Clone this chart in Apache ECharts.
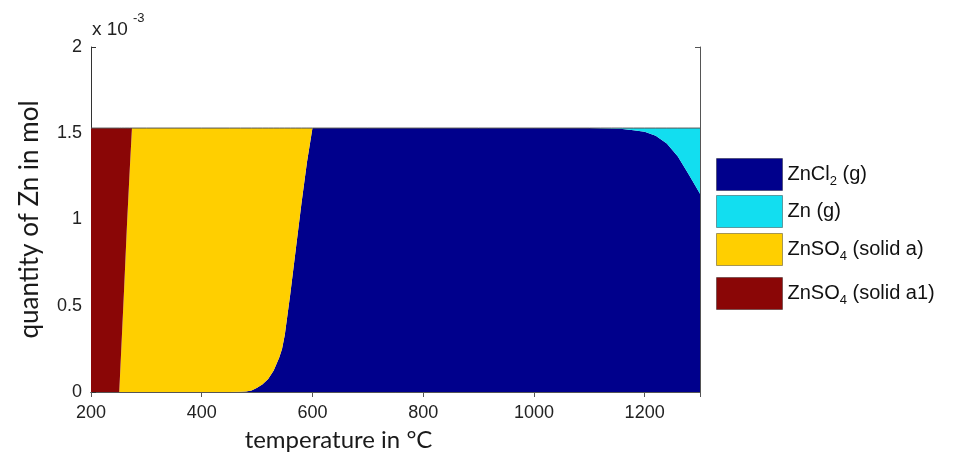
<!DOCTYPE html>
<html>
<head>
<meta charset="utf-8">
<script src="https://cdn.jsdelivr.net/npm/echarts@6/dist/echarts.min.js"></script>
<style>
  html, body { margin: 0; padding: 0; background: #fff; }
  #chart { width: 971px; height: 464px; }
</style>
</head>
<body>
<div id="chart"></div>
<script>
// Temperature grid (°C) shared by all species
const temps = [200, 251, 255, 260, 265, 270, 274, 300, 350, 400, 450, 470, 480, 490, 500, 510,
  520, 530, 540, 545, 550, 560, 570, 580, 590, 600, 650, 700, 800, 900, 1000, 1100, 1120, 1140,
  1160, 1180, 1200, 1220, 1240, 1260, 1280, 1300];

// Quantity of Zn in each species, in units of 1e-3 mol
const zncl2Gas = [0, 0, 0, 0, 0, 0, 0, 0, 0, 0, 0, 0.001, 0.003, 0.008, 0.025, 0.045,
  0.075, 0.125, 0.2, 0.25, 0.33, 0.57, 0.83, 1.09, 1.33, 1.53, 1.53, 1.53, 1.53, 1.53, 1.53, 1.53, 1.529, 1.527,
  1.524, 1.518, 1.508, 1.485, 1.44, 1.365, 1.26, 1.15];
const znGas = [0, 0, 0, 0, 0, 0, 0, 0, 0, 0, 0, 0, 0, 0, 0, 0,
  0, 0, 0, 0, 0, 0, 0, 0, 0, 0, 0, 0, 0, 0, 0, 0, 0.001, 0.003,
  0.006, 0.012, 0.022, 0.045, 0.09, 0.165, 0.27, 0.38];
const znso4SolidA = [0, 0, 0.27, 0.61, 0.97, 1.29, 1.53, 1.53, 1.53, 1.53, 1.53, 1.529, 1.527, 1.522, 1.505, 1.485,
  1.455, 1.405, 1.33, 1.28, 1.20, 0.96, 0.70, 0.44, 0.20, 0, 0, 0, 0, 0, 0, 0, 0, 0,
  0, 0, 0, 0, 0, 0, 0, 0];
const znso4SolidA1 = [1.53, 1.53, 1.26, 0.92, 0.56, 0.24, 0, 0, 0, 0, 0, 0, 0, 0, 0, 0,
  0, 0, 0, 0, 0, 0, 0, 0, 0, 0, 0, 0, 0, 0, 0, 0, 0, 0,
  0, 0, 0, 0, 0, 0, 0, 0];

const xTicks = [200, 400, 600, 800, 1000, 1200];
const yTicks = [0, 0.5, 1, 1.5, 2];

const speciesNames = ['ZnCl2 (g)', 'Zn (g)', 'ZnSO4 (solid a)', 'ZnSO4 (solid a1)'];
const speciesValues = [zncl2Gas, znGas, znso4SolidA, znso4SolidA1];
const speciesColors = ['#00008c', '#12def0', '#ffcf00', '#8a0606'];
const legendLabels = {
  'ZnCl2 (g)': '{n|ZnCl}{s|2}{n| (g)}',
  'Zn (g)': '{n|Zn (g)}',
  'ZnSO4 (solid a)': '{n|ZnSO}{s|4}{n| (solid a)}',
  'ZnSO4 (solid a1)': '{n|ZnSO}{s|4}{n| (solid a1)}'
};
const legendTops = [158, 195, 233, 277];

const tickFont = { fontFamily: 'Liberation Sans', fontSize: 18, color: '#222' };

// Each point is stored as [quantity, temperature] so the quantity column is the stacked one.
const lastIdx = speciesNames.length - 1;
const series = speciesNames.map((name, k) => ({
  name: name,
  type: 'line',
  stack: 'total',
  symbol: 'none',
  smooth: false,
  // the outline of the top layer traces the total quantity
  lineStyle: k === lastIdx ? { width: 1, color: '#555' } : { width: 0 },
  areaStyle: { color: speciesColors[k], opacity: 1 },
  itemStyle: { color: speciesColors[k] },
  encode: { x: 1, y: 0 },
  data: temps.map((t, i) => [speciesValues[k][i], t])
}));

const legends = speciesNames.map((name, k) => ({
  data: [{ name: name, itemStyle: { color: speciesColors[k] } }],
  orient: 'vertical',
  left: 716,
  top: legendTops[k],
  padding: 0,
  itemWidth: 66,
  itemHeight: 32,
  itemGap: 6,
  icon: 'rect',
  selectedMode: false,
  itemStyle: { borderColor: 'rgba(0,0,0,0.35)', borderWidth: 1 },
  formatter: n => legendLabels[n],
  textStyle: {
    rich: {
      n: { fontFamily: 'Liberation Sans', fontSize: 20, color: '#111' },
      s: { fontFamily: 'Liberation Sans', fontSize: 13, color: '#111', padding: [14, 0, 0, 0] }
    }
  }
}));

const chart = echarts.init(document.getElementById('chart'), null, { renderer: 'canvas' });
chart.setOption({
  animation: false,
  backgroundColor: '#fff',
  grid: { left: 91, right: 271, top: 47, bottom: 72, containLabel: false },
  legend: legends,
  xAxis: [{
    type: 'value',
    min: 200, max: 1300, interval: 200,
    name: 'temperature in °C',
    nameLocation: 'middle',
    nameGap: 36,
    nameTextStyle: { fontFamily: 'Lato', fontSize: 24, color: '#1a1a1a', padding: [0, 114, 0, 0] },
    axisLine: { show: true, lineStyle: { color: '#333', width: 1 } },
    axisTick: { show: true, inside: true, length: 5, lineStyle: { color: '#333' } },
    axisLabel: Object.assign({ margin: 12, showMaxLabel: false,
      formatter: v => (xTicks.indexOf(v) >= 0 ? String(v) : '') }, tickFont),
    splitLine: { show: false }
  }, {
    type: 'value', position: 'top',
    min: 200, max: 1300, interval: 200,
    axisLine: { show: true, lineStyle: { color: '#555', width: 1 } },
    axisTick: { show: true, inside: true, length: 5, lineStyle: { color: '#555' } },
    axisLabel: { show: false },
    splitLine: { show: false }
  }],
  yAxis: [{
    type: 'value',
    min: 0, max: 2, interval: 0.5,
    name: 'quantity of Zn in mol',
    nameLocation: 'middle',
    nameGap: 48,
    nameTextStyle: { fontFamily: 'Lato', fontSize: 26, color: '#1a1a1a' },
    axisLine: { show: true, lineStyle: { color: '#333', width: 1 } },
    axisTick: { show: true, inside: true, length: 5, lineStyle: { color: '#333' } },
    axisLabel: Object.assign({ margin: 9,
      formatter: v => (yTicks.indexOf(v) >= 0 ? String(v) : '') }, tickFont),
    splitLine: { show: false }
  }, {
    type: 'value', position: 'right',
    min: 0, max: 2, interval: 0.5,
    axisLine: { show: true, lineStyle: { color: '#555', width: 1 } },
    axisTick: { show: true, inside: true, length: 5, lineStyle: { color: '#555' } },
    axisLabel: { show: false },
    splitLine: { show: false }
  }],
  graphic: [
    { type: 'text', left: 92, top: 20, style: { text: 'x 10', font: '19px "Liberation Sans"', fill: '#222' } },
    { type: 'text', left: 133, top: 12, style: { text: '-3', font: '13px "Liberation Sans"', fill: '#222' } }
  ],
  series: series
});
</script>
</body>
</html>
